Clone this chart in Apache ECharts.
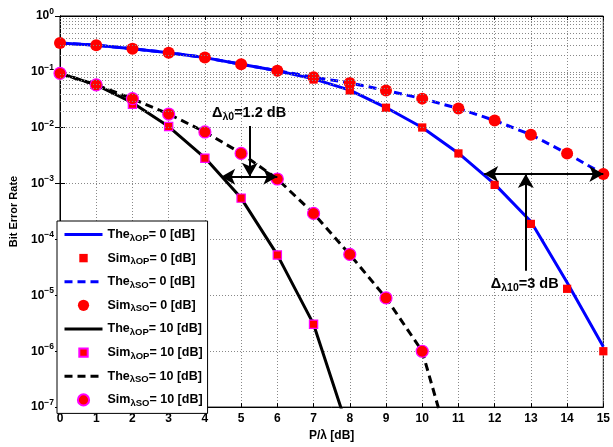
<!DOCTYPE html>
<html><head><meta charset="utf-8">
<script src="https://cdn.jsdelivr.net/npm/echarts@6/dist/echarts.min.js"></script>
<style>html,body{margin:0;padding:0;background:#fff}#c{width:613px;height:447px}</style>
</head><body><div id="c"></div>
<script>
// ---- data ----
const xVals = [0,1,2,3,4,5,6,7,8,9,10,11,12,13,14,15];
const theOP0 = [0.33,0.30,0.26,0.22,0.18,0.137,0.105,0.075,0.047,0.023,0.0101,0.0035,0.00098,2.1e-4,1.7e-5,1.2e-6];
const simOP0 = [0.33,0.30,0.26,0.22,0.18,0.137,0.105,0.073,0.0465,0.0228,0.0101,0.00347,0.00095,1.9e-4,1.31e-5,1.0e-6];
const theSO0 = [0.33,0.30,0.26,0.22,0.18,0.137,0.105,0.080,0.0635,0.0465,0.0332,0.0221,0.0135,0.0075,0.00347,0.00148];
const simSO0 = [0.33,0.30,0.26,0.22,0.18,0.137,0.105,0.080,0.0635,0.0465,0.0332,0.0221,0.0135,0.0075,0.00347,0.00148];
const theOP10 = [0.094,0.0586,0.028,0.0105,0.0029,5.5e-4,5.3e-5,3.05e-6,3.2e-8];
const simOP10 = [0.094,0.0586,0.0264,0.0105,0.00284,5.5e-4,5.27e-5,3.05e-6];
const theSO10 = [0.094,0.0586,0.033,0.0176,0.0084,0.0035,0.00121,2.93e-4,5.4e-5,9.0e-6,1.0e-6,5.4e-9];
const simSO10 = [0.094,0.0586,0.0332,0.0176,0.0084,0.00347,0.00121,2.93e-4,5.4e-5,9.0e-6,1.0e-6];
const seriesNames = ['theOP0','simOP0','theSO0','simSO0','theOP10','simOP10','theSO10','simSO10'];
const legendLabels = {
  theOP0:'The{s|λOP}= 0 [dB]', simOP0:'Sim{s|λOP}= 0 [dB]',
  theSO0:'The{s|λSO}= 0 [dB]', simSO0:'Sim{s|λSO}= 0 [dB]',
  theOP10:'The{s|λOP}= 10 [dB]', simOP10:'Sim{s|λOP}= 10 [dB]',
  theSO10:'The{s|λSO}= 10 [dB]', simSO10:'Sim{s|λSO}= 10 [dB]'
};
const minorMult = [2,3,4,5,6,7,8,9];
const decades = [-7,-6,-5,-4,-3,-2,-1];
// annotations (data coordinates)
const arrow0H = [[4.45,1.33e-3],[6.0,1.33e-3]];
const arrow0V = [[5.24,0.0107],[5.24,1.33e-3]];
const text0 = {coord:[5.22,0.0185], text:'Δ{s|λ0}=1.2 dB'};
const arrow10H = [[11.71,1.48e-3],[15,1.48e-3]];
const arrow10V = [[12.86,2.75e-5],[12.86,1.48e-3]];
const text10 = {coord:[12.83,1.6e-5], text:'Δ{s|λ10}=3 dB'};

// ---- chart ----
const F = 'Liberation Sans';
const pts = (ys) => ys.map((y,i)=>[xVals[i], y]);
const sq = 'path://M0,0M12,12M1.5,1.5H10.5V10.5H1.5Z';
const minorLines = [];
decades.forEach(d => minorMult.forEach(m => minorLines.push({yAxis: m*Math.pow(10,d)})));

const chart = echarts.init(document.getElementById('c'), null, {renderer:'canvas'});
const lineS = (name, ys, color, dashed) => ({
  name, type:'line', data: pts(ys), symbol:'none', showSymbol:false, clip:true,
  lineStyle:{color, width:3, type: dashed ? [8,5] : 'solid'}, itemStyle:{color}, z:3
});
const symS = (name, ys, symbol, size, border) => ({
  name, type:'line', data: pts(ys), symbol, symbolSize:size, showSymbol:true, showAllSymbol:true,
  lineStyle:{width:0, opacity:0},
  itemStyle:{color:'#ff0000', borderColor: border ? '#ff00ff' : '#ff0000', borderWidth: border ? 1.2 : 0}, z:4
});
chart.setOption({
  animation:false,
  backgroundColor:'#fff',
  grid:{left:56.5, right:6.5, top:16, bottom:33.5, show:true, borderColor:'#000', borderWidth:1, backgroundColor:'transparent'},
  xAxis:[{
    type:'value', min:0, max:15, interval:1,
    axisLine:{show:true, onZero:false, lineStyle:{color:'#000'}},
    axisTick:{show:true, inside:true, length:4, lineStyle:{color:'#000'}},
    axisLabel:{color:'#000', fontFamily:F, fontWeight:'bold', fontSize:12, margin:6},
    splitLine:{show:true, lineStyle:{color:'#888', type:[1,2], width:1}},
    name:'P/λ [dB]', nameLocation:'middle', nameGap:20,
    nameTextStyle:{color:'#000', fontFamily:F, fontWeight:'bold', fontSize:12}
  },{
    type:'value', min:0, max:15, interval:1, position:'top',
    axisLine:{show:true, lineStyle:{color:'#000'}},
    axisTick:{show:true, inside:true, length:4, lineStyle:{color:'#000'}},
    axisLabel:{show:false}, splitLine:{show:false}
  }],
  yAxis:[{
    type:'log', logBase:10, min:1e-7, max:1, splitNumber:7,
    axisLine:{show:true, lineStyle:{color:'#000'}},
    axisTick:{show:true, inside:true, length:5, lineStyle:{color:'#000'}},
    axisLabel:{color:'#000', fontFamily:F, fontWeight:'bold', fontSize:12, margin:6,
      formatter: v => { const e = Math.round(Math.log10(v)); return '{b|10}{p|' + (e<0 ? '\u2212'+(-e) : e) + '}'; },
      rich:{b:{fontFamily:F, fontWeight:'bold', fontSize:12, color:'#000', lineHeight:14},
            p:{fontFamily:F, fontWeight:'bold', fontSize:8.5, color:'#000', verticalAlign:'top', padding:[0,0,9,0]}}},
    splitLine:{show:true, lineStyle:{color:'#888', type:[1,2], width:1}},
    name:'Bit Error Rate', nameLocation:'middle', nameGap:41,
    nameTextStyle:{color:'#000', fontFamily:F, fontWeight:'bold', fontSize:11}
  },{
    type:'log', logBase:10, min:1e-7, max:1, splitNumber:7, position:'right',
    axisLine:{show:true, lineStyle:{color:'#000'}},
    axisTick:{show:true, inside:true, length:5, lineStyle:{color:'#000'}},
    axisLabel:{show:false}, splitLine:{show:false}
  }],
  legend:{
    data: seriesNames.map(n => n.startsWith('the') ? {name:n, itemStyle:{opacity:0}, lineStyle:{width:3}} : {name:n}),
    orient:'vertical', left:57, top:221, itemWidth:38, itemHeight:14, itemGap:8.6,
    padding:[7,5,5,6], borderColor:'#000', borderWidth:1, backgroundColor:'#fff', borderRadius:0,
    selectedMode:false, z:10,
    formatter: n => legendLabels[n],
    textStyle:{fontFamily:F, fontWeight:'bold', fontSize:12.5, color:'#000',
      rich:{s:{fontFamily:F, fontWeight:'bold', fontSize:9.5, color:'#000', verticalAlign:'bottom', padding:[7,0,0,0]}}}
  },
  series:[
    {name:'grid', type:'line', data:[], z:1, silent:true,
     markLine:{silent:true, symbol:'none', label:{show:false}, animation:false,
       lineStyle:{color:'#888', type:[1,2], width:1}, data: minorLines}},
    lineS('theOP0', theOP0, '#0000ff', false),
    symS('simOP0', simOP0, sq, 11, false),
    lineS('theSO0', theSO0, '#0000ff', true),
    symS('simSO0', simSO0, 'circle', 12, false),
    lineS('theOP10', theOP10, '#000000', false),
    symS('simOP10', simOP10, sq, 11, true),
    lineS('theSO10', theSO10, '#000000', true),
    symS('simSO10', simSO10, 'circle', 12, true),
    {name:'annot', type:'line', data:[], z:6, silent:true,
     markLine:{silent:true, label:{show:false}, animation:false, symbolSize:[12,14],
       lineStyle:{color:'#000', type:'solid', width:2},
       data:[
         [{coord:arrow0H[0], symbol:'arrow'},{coord:arrow0H[1], symbol:'arrow'}],
         [{coord:arrow0V[0], symbol:'none'},{coord:arrow0V[1], symbol:'arrow'}],
         [{coord:arrow10H[0], symbol:'arrow'},{coord:arrow10H[1], symbol:'arrow'}],
         [{coord:arrow10V[0], symbol:'none'},{coord:arrow10V[1], symbol:'arrow'}]
       ]},
     markPoint:{silent:true, animation:false, symbol:'circle', symbolSize:0,
       label:{show:true, position:'inside', color:'#000', fontFamily:F, fontWeight:'bold', fontSize:14.5,
         formatter: p => p.data.text,
         rich:{s:{fontFamily:F, fontWeight:'bold', fontSize:10.5, color:'#000', verticalAlign:'bottom', padding:[9,0,0,0]}}},
       data:[{coord:text0.coord, text:text0.text},{coord:text10.coord, text:text10.text}]}
    }
  ]
});
</script></body></html>
